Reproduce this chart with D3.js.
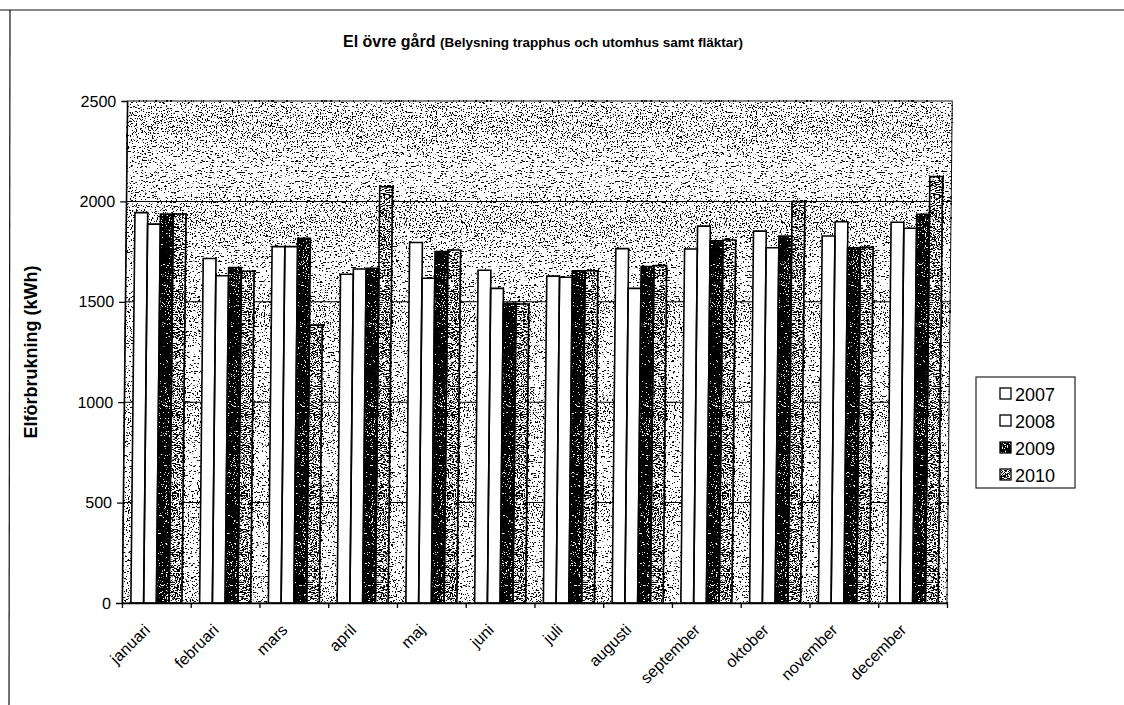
<!DOCTYPE html>
<html><head><meta charset="utf-8">
<script src="https://cdn.jsdelivr.net/npm/d3@7"></script>
<style>
html,body{margin:0;padding:0;background:#fff;}
svg{display:block;}
text{font-family:Arial,"Liberation Sans",sans-serif;fill:#000;}
</style>
</head><body>
<svg id="chart" width="1124" height="705"></svg>
<script>
const months = ["januari","februari","mars","april","maj","juni","juli","augusti","september","oktober","november","december"];
const years = ["2007","2008","2009","2010"];
const values2007 = [1944, 1716, 1775, 1637, 1795, 1657, 1628, 1765, 1763, 1852, 1828, 1896];
const values2008 = [1887, 1630, 1775, 1663, 1617, 1567, 1622, 1567, 1877, 1769, 1899, 1866];
const values2009 = [1937, 1670, 1816, 1667, 1750, 1493, 1655, 1675, 1804, 1828, 1769, 1936];
const values2010 = [1937, 1652, 1384, 2073, 1758, 1489, 1655, 1680, 1808, 1999, 1771, 2124];
const yTickValues = [0, 500, 1000, 1500, 2000, 2500];
const titleMain = "El övre gård";
const titleSub = "(Belysning trapphus och utomhus samt fläktar)";
const yAxisTitle = "Elförbrukning (kWh)";

const series = [values2007, values2008, values2009, values2010];
const table = months.map((m, i) => ({month: m, values: years.map((yr, j) => ({year: yr, value: series[j][i]}))}));

const svg = d3.select("#chart");
const defs = svg.append("defs");

function stipple(id, rgb, threshold, steep, seed, freq) {
  const f = defs.append("filter").attr("id", id)
    .attr("x", 0).attr("y", 0).attr("width", 1).attr("height", 1)
    .attr("color-interpolation-filters", "sRGB");
  f.append("feTurbulence").attr("type", "fractalNoise").attr("baseFrequency", freq)
    .attr("numOctaves", 2).attr("seed", seed).attr("result", "n");
  f.append("feColorMatrix").attr("in", "n").attr("type", "matrix")
    .attr("values", `0 0 0 0 ${rgb}  0 0 0 0 ${rgb}  0 0 0 0 ${rgb}  ${steep} 0 0 0 ${-steep * threshold}  `);
}
stipple("bgDots", 0, 0.58, 30, 3, 0.8);
stipple("darkDots", 0, 0.5, 30, 11, 0.95);
stipple("whiteDots", 1, 0.61, 30, 17, 0.9);

const fills = {"2007": "#fff", "2008": "#fff", "2009": "#000", "2010": "#fff"};
const overlay = {"2009": "url(#whiteDots)", "2010": "url(#darkDots)"};

// Page frame lines
svg.append("line").attr("x1", 0).attr("x2", 1124).attr("y1", 10).attr("y2", 10).attr("stroke", "#111").attr("stroke-width", 1.2);
svg.append("line").attr("x1", 10).attr("x2", 9).attr("y1", 10).attr("y2", 705).attr("stroke", "#111").attr("stroke-width", 1.2);

// Title
const title = svg.append("text").attr("x", 543).attr("y", 47).attr("text-anchor", "middle");
title.append("tspan").attr("font-size", 16).attr("font-weight", "bold").text(titleMain + " ");
title.append("tspan").attr("font-size", 13.5).attr("font-weight", "bold").text(titleSub);

// Y axis title
svg.append("text").attr("transform", "translate(37,352) rotate(-90)")
  .attr("text-anchor", "middle").attr("font-size", 18).attr("font-weight", "bold").text(yAxisTitle);

// Chart group (scan is slightly skewed)
const g = svg.append("g").attr("transform", "translate(0,603) skewX(-0.6) translate(0,-603)");

const plotLeft = 122, plotRight = 947, plotTop = 101, plotBottom = 603;
const x0 = d3.scaleBand().domain(months).range([plotLeft, plotRight]).paddingInner(0.258).paddingOuter(0.129);
const x1 = d3.scaleBand().domain(years).range([0, x0.bandwidth()]);
const xb = d3.scaleLinear().domain([0, months.length]).range([plotLeft, plotRight]);
const y = d3.scaleLinear().domain([0, 2500]).range([plotBottom, plotTop]);

g.append("rect").attr("x", plotLeft).attr("y", plotTop).attr("width", plotRight - plotLeft).attr("height", plotBottom - plotTop).attr("fill", "#fff");
g.append("rect").attr("x", plotLeft).attr("y", plotTop).attr("width", plotRight - plotLeft).attr("height", plotBottom - plotTop).attr("filter", "url(#bgDots)");

// gridlines
g.append("g").selectAll("line").data(yTickValues.filter(v => v > 0 && v < 2500)).join("line")
  .attr("x1", plotLeft).attr("x2", plotRight).attr("y1", d => y(d)).attr("y2", d => y(d))
  .attr("stroke", "#000").attr("stroke-width", 1);

// bars
const groups = g.append("g").selectAll("g").data(table).join("g")
  .attr("transform", d => `translate(${x0(d.month)},0)`);
groups.selectAll("rect.fill").data(d => d.values).join("rect").attr("class", "fill")
  .attr("x", d => x1(d.year)).attr("y", d => y(d.value))
  .attr("width", x1.bandwidth()).attr("height", d => y(0) - y(d.value))
  .attr("fill", d => fills[d.year]);
groups.selectAll("rect.tex").data(d => d.values.filter(v => overlay[v.year])).join("rect").attr("class", "tex")
  .attr("x", d => x1(d.year)).attr("y", d => y(d.value))
  .attr("width", x1.bandwidth()).attr("height", d => y(0) - y(d.value))
  .attr("filter", d => overlay[d.year]);
groups.selectAll("rect.edge").data(d => d.values).join("rect").attr("class", "edge")
  .attr("x", d => x1(d.year)).attr("y", d => y(d.value))
  .attr("width", x1.bandwidth()).attr("height", d => y(0) - y(d.value))
  .attr("fill", "none").attr("stroke", "#000").attr("stroke-width", 1.6);

// plot border
g.append("rect").attr("x", plotLeft).attr("y", plotTop).attr("width", plotRight - plotLeft).attr("height", plotBottom - plotTop)
  .attr("fill", "none").attr("stroke", "#111").attr("stroke-width", 1);

// Y axis
const yAxis = g.append("g").attr("transform", `translate(${plotLeft},0)`)
  .call(d3.axisLeft(y).tickValues(yTickValues).tickFormat(d3.format("d")).tickSize(6).tickPadding(5).tickSizeOuter(0));
yAxis.selectAll("text").attr("font-size", 16).style("font-family", "Arial, 'Liberation Sans', sans-serif");
yAxis.selectAll("line,path").attr("stroke", "#000").attr("stroke-width", 1.3);

// X axis ticks at category boundaries
const xAxis = g.append("g").attr("transform", `translate(0,${plotBottom})`)
  .call(d3.axisBottom(xb).ticks(months.length).tickFormat("").tickSize(5).tickSizeOuter(0));
xAxis.selectAll("line,path").attr("stroke", "#000").attr("stroke-width", 1.3);

// X labels
g.append("g").selectAll("text").data(months).join("text")
  .attr("transform", d => `translate(${x0(d) + x0.bandwidth() / 2 - 5},631) rotate(-45)`)
  .attr("text-anchor", "end").attr("font-size", 16).text(d => d);

// Legend
const lg = svg.append("g");
lg.append("rect").attr("x", 976).attr("y", 377).attr("width", 99).attr("height", 111)
  .attr("fill", "#fff").attr("stroke", "#222").attr("stroke-width", 1.2);
const items = lg.selectAll("g").data(years).join("g")
  .attr("transform", (d, i) => `translate(1000,${394 + i * 27})`);
items.append("rect").attr("x", 0).attr("y", -6).attr("width", 11).attr("height", 11).attr("fill", d => fills[d]);
items.filter(d => overlay[d]).append("rect").attr("x", 0).attr("y", -6).attr("width", 11).attr("height", 11).attr("filter", d => overlay[d]);
items.append("rect").attr("x", 0).attr("y", -6).attr("width", 11).attr("height", 11).attr("fill", "none").attr("stroke", "#000").attr("stroke-width", 1.3);
items.append("text").attr("x", 15).attr("y", 6.5).attr("font-size", 18).text(d => d);
</script>
</body></html>
